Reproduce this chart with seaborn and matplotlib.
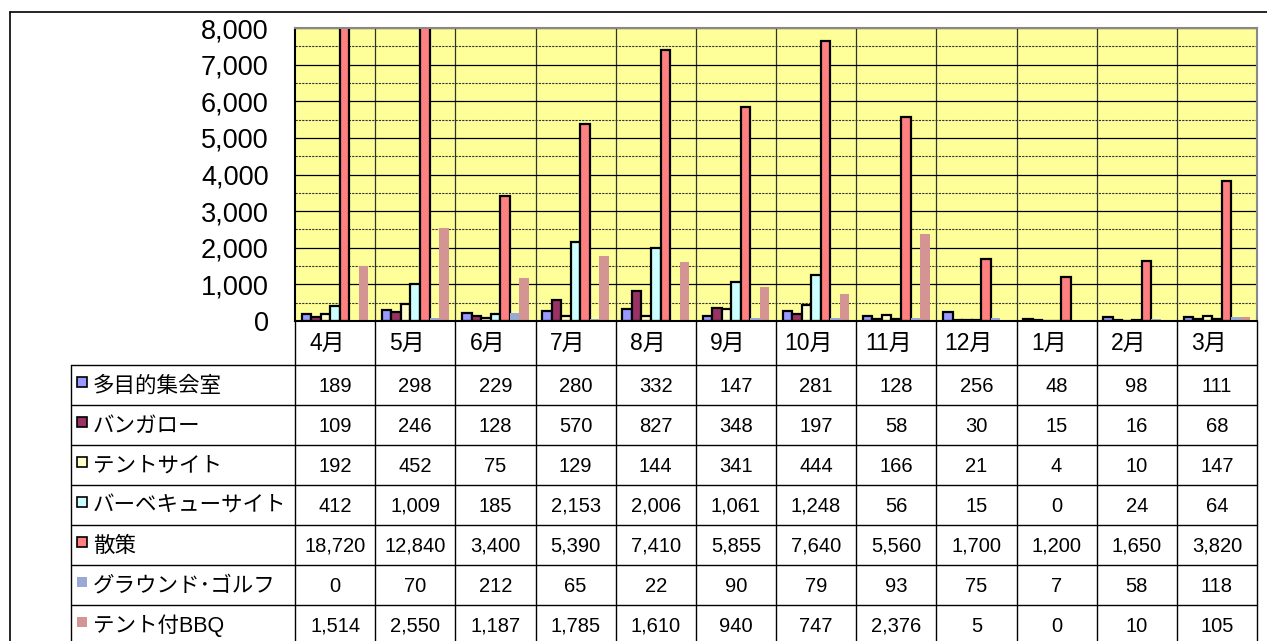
import numpy as np
import pandas as pd
import matplotlib
matplotlib.use('Agg')
import matplotlib.pyplot as plt
import seaborn as sns
from matplotlib.patches import Rectangle
from matplotlib.lines import Line2D
from matplotlib.ticker import MultipleLocator, FixedLocator, FuncFormatter

months = ['4月', '5月', '6月', '7月', '8月', '9月',
          '10月', '11月', '12月', '1月', '2月', '3月']
series = ['多目的集会室', 'バンガロー', 'テントサイト', 'バーベキューサイト',
          '散策', 'グラウンド･ゴルフ', 'テント付BBQ']

tamokuteki = [189, 298, 229, 280, 332, 147, 281, 128, 256, 48, 98, 111]
bungalow = [109, 246, 128, 570, 827, 348, 197, 58, 30, 15, 16, 68]
tentsite = [192, 452, 75, 129, 144, 341, 444, 166, 21, 4, 10, 147]
bbqsite = [412, 1009, 185, 2153, 2006, 1061, 1248, 56, 15, 0, 24, 64]
sansaku = [18720, 12840, 3400, 5390, 7410, 5855, 7640, 5560, 1700, 1200, 1650, 3820]
golf = [0, 70, 212, 65, 22, 90, 79, 93, 75, 7, 58, 118]
tent_bbq = [1514, 2550, 1187, 1785, 1610, 940, 747, 2376, 5, 0, 10, 105]
values = [tamokuteki, bungalow, tentsite, bbqsite, sansaku, golf, tent_bbq]

colors = ['#9999FF', '#993366', '#FFFFCC', '#CCFFFF', '#FF8080', '#97A9D4', '#D49494']
edged = [True, True, True, True, True, False, False]

W, H = 1267, 641
sns.set_theme(style='white')
plt.rcParams['font.family'] = ['Liberation Sans', 'Noto Sans CJK JP']

rows = []
for name, vals in zip(series, values):
    for m, v in zip(months, vals):
        rows.append({'month': m, 'series': name, 'value': v})
df = pd.DataFrame(rows)


def fx(px):
    return px / W


def fy(py):
    return 1 - py / H


fig = plt.figure(figsize=(W / 100, H / 100), dpi=100)
left, right, top, bottom = 295, 1257, 28, 321
ax = fig.add_axes([fx(left), fy(bottom), fx(right - left), (bottom - top) / H])
ax.set_facecolor('#FFFF99')

sns.barplot(data=df, x='month', y='value', hue='series', order=months,
            hue_order=series, palette=dict(zip(series, colors)), width=0.83,
            saturation=1, errorbar=None, legend=False, ax=ax)

for cont, e in zip(ax.containers, edged):
    for bar in cont:
        if e:
            bar.set_edgecolor('black')
            bar.set_linewidth(1.6)
        else:
            bar.set_edgecolor('none')
            bar.set_linewidth(0)

ax.set_ylim(0, 8000)
ax.set_xlim(-0.5, 11.5)
ax.yaxis.set_major_locator(MultipleLocator(1000))
ax.yaxis.set_minor_locator(MultipleLocator(500))
ax.yaxis.set_major_formatter(FuncFormatter(lambda v, p: f'{int(v):,}'))
ax.xaxis.set_minor_locator(FixedLocator(np.arange(0.5, 11, 1)))
ax.tick_params(axis='y', which='both', length=0, pad=19, labelsize=19.5,
               labelcolor='black')
ax.tick_params(axis='x', which='both', length=0, labelbottom=False)
ax.set_xlabel('')
ax.set_ylabel('')

ax.grid(False)
ax.yaxis.grid(True, which='major', color='black', lw=0.9)
ax.yaxis.grid(True, which='minor', color='#333333', lw=0.8, ls=(0, (2, 1)))
ax.xaxis.grid(True, which='minor', color='#333333', lw=0.9)
ax.set_axisbelow(True)

for s in ['top', 'right']:
    ax.spines[s].set_color('#888888')
    ax.spines[s].set_linewidth(1.5)
for s in ['left', 'bottom']:
    ax.spines[s].set_color('black')
    ax.spines[s].set_linewidth(1.5)

# data table under the chart
colw = (right - left) / 12
for i in range(13):
    x = left + i * colw
    fig.add_artist(Line2D([fx(x), fx(x)], [fy(bottom), fy(H + 5)],
                          transform=fig.transFigure, color='black', lw=1))
fig.add_artist(Line2D([fx(71), fx(71)], [fy(365), fy(H + 5)],
                      transform=fig.transFigure, color='black', lw=1))
for k in range(7):
    y = 365 + 40 * k
    fig.add_artist(Line2D([fx(71), fx(right)], [fy(y), fy(y)],
                          transform=fig.transFigure, color='black', lw=1))

for i, m in enumerate(months):
    fig.text(fx(left + (i + 0.5) * colw - 8), fy(343), m, ha='center',
             va='center', fontsize=16.5, color='black')

for r, (name, vals) in enumerate(zip(series, values)):
    yc = 385 + 40 * r
    fig.add_artist(Rectangle((fx(77), fy(yc + 2)), fx(10), 10 / H,
                             transform=fig.transFigure, facecolor=colors[r],
                             edgecolor='black' if edged[r] else 'none', lw=1.2))
    fig.text(fx(93), fy(yc + 1), name, ha='left', va='center', fontsize=15.5,
             color='black')
    for i, v in enumerate(vals):
        fig.text(fx(left + (i + 0.5) * colw), fy(yc + 1), f'{v:,}',
                 ha='center', va='center', fontsize=14.5, color='black')

# outer chart border
fig.add_artist(Line2D([fx(10), fx(W + 5)], [fy(12), fy(12)],
                      transform=fig.transFigure, color='black', lw=1.2))
fig.add_artist(Line2D([fx(10), fx(10)], [fy(12), fy(H + 5)],
                      transform=fig.transFigure, color='black', lw=1.2))

fig.savefig('out.png', dpi=100, facecolor='white')
